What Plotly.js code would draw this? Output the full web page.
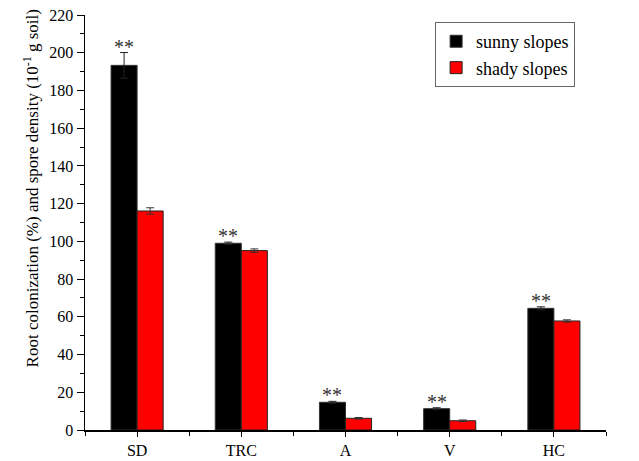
<!DOCTYPE html>
<html>
<head>
<meta charset="utf-8">
<script src="https://cdn.plot.ly/plotly-3.0.1.min.js"></script>
<style>
  html, body { margin: 0; padding: 0; background: #fff; }
  #chart { width: 639px; height: 461px; }
</style>
</head>
<body>
<div id="chart"></div>
<script>
// Categories along the x axis
const categories = ['SD', 'TRC', 'A', 'V', 'HC'];

// Mean values per slope aspect
const sunnyValues = [193.3, 99.0, 14.7, 11.3, 64.5];
const shadyValues = [116.1, 95.1, 6.2, 4.9, 57.8];

// Standard errors
const sunnyErrors = [6.8, 0.6, 0.5, 0.5, 0.8];
const shadyErrors = [1.7, 0.9, 0.4, 0.4, 0.6];

// Significance markers shown above the sunny-slope bars
const significance = ['**', '**', '**', '**', '**'];

const seriesNames = ['sunny slopes', 'shady slopes'];

const xPos = categories.map((_, i) => i);
const serif = "'Liberation Serif', 'Times New Roman', Times, serif";

const traces = [
  {
    type: 'bar',
    name: seriesNames[0],
    x: xPos,
    y: sunnyValues,
    marker: { color: '#000000', line: { color: '#333333', width: 1 } },
    error_y: { type: 'data', array: sunnyErrors, visible: true, color: '#222222', thickness: 1, width: 4 }
  },
  {
    type: 'bar',
    name: seriesNames[1],
    x: xPos,
    y: shadyValues,
    marker: { color: '#ff0000', line: { color: '#222222', width: 1 } },
    error_y: { type: 'data', array: shadyErrors, visible: true, color: '#333333', thickness: 1, width: 4 }
  }
];

// Asterisks sit over the left bar of each group, just above its error bar
const starAnnotations = significance.map((s, i) => ({
  x: i - 0.125,
  y: sunnyValues[i] + sunnyErrors[i],
  xref: 'x', yref: 'y',
  text: s,
  showarrow: false,
  yanchor: 'bottom',
  yshift: -7,
  font: { family: serif, size: 20, color: '#333333' }
}));

const yTitle = {
  text: 'Root colonization (%) and spore density (10<sup>-1</sup> g soil)',
  xref: 'paper', yref: 'paper',
  x: -0.103, y: 0.583,
  xanchor: 'center', yanchor: 'middle',
  textangle: -90,
  showarrow: false,
  font: { family: serif, size: 17, color: '#000000' }
};

const layout = {
  width: 639,
  height: 461,
  margin: { l: 85, r: 33, t: 15, b: 31 },
  paper_bgcolor: '#ffffff',
  plot_bgcolor: '#ffffff',
  barmode: 'group',
  bargap: 0.5,
  bargroupgap: 0,
  font: { family: serif, size: 16, color: '#000000' },
  showlegend: true,
  legend: {
    x: 0.672, y: 0.983,
    xanchor: 'left', yanchor: 'top',
    bgcolor: '#ffffff',
    bordercolor: '#666666',
    borderwidth: 1,
    font: { family: serif, size: 18, color: '#000000' },
    tracegroupgap: 0,
    itemwidth: 30
  },
  xaxis: {
    range: [-0.5, 4.5],
    tickmode: 'array',
    tickvals: xPos,
    ticktext: categories,
    ticks: 'outside',
    ticklen: 5,
    tickwidth: 1,
    tickcolor: '#000000',
    showline: true,
    linecolor: '#000000',
    linewidth: 1.5,
    showgrid: false,
    zeroline: false,
    minor: { tick0: 0.5, dtick: 1, ticks: 'outside', ticklen: 4, tickcolor: '#000000', showgrid: false },
    tickfont: { family: serif, size: 16, color: '#000000' }
  },
  yaxis: {
    range: [0, 220],
    dtick: 20,
    ticks: 'outside',
    ticklen: 7,
    tickwidth: 1,
    tickcolor: '#000000',
    showline: true,
    linecolor: '#000000',
    linewidth: 1.5,
    showgrid: false,
    zeroline: false,
    minor: { dtick: 10, ticks: 'outside', ticklen: 4, tickcolor: '#000000', showgrid: false },
    tickfont: { family: serif, size: 16, color: '#000000' }
  },
  annotations: starAnnotations.concat([yTitle])
};

Plotly.newPlot('chart', traces, layout, { displayModeBar: false, staticPlot: true });
</script>
</body>
</html>
